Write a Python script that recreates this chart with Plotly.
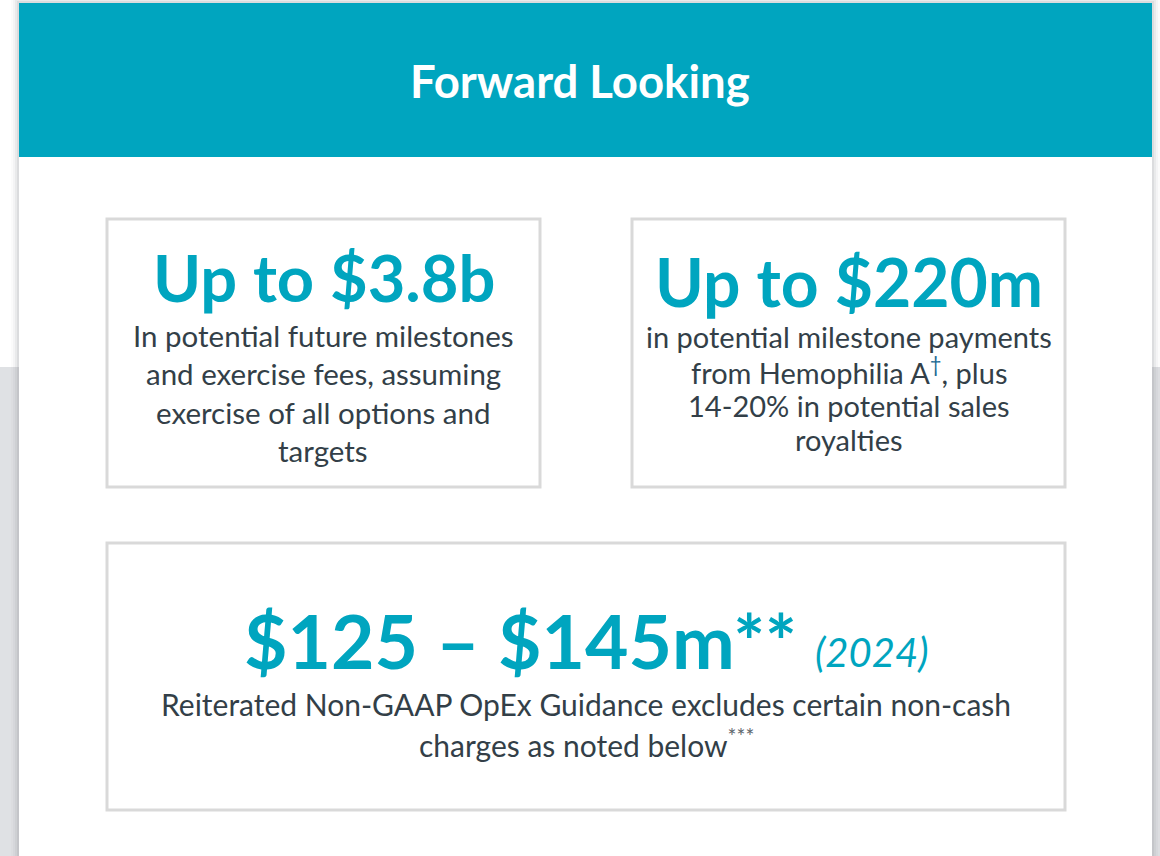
import plotly.graph_objects as go

W, H = 1160, 856
TEAL = "#00a5bf"
DARK = "#333f48"
BORDER = "#d9d9d9"
FONT = "Lato"

# ---- content ----
header_text = "Forward Looking"
box1_headline = "Up to $3.8b"
box1_lines = ["In potential future milestones", "and exercise fees, assuming",
              "exercise of all options and", "targets"]
box2_headline = "Up to $220m"
box2_lines = ["in potential milestone payments",
              "from Hemophilia A<sup><span style='color:#1d6a93'>†</span></sup>, plus",
              "14-20% in potential sales", "royalties"]
box3_headline = "$125 – $145m**"
box3_year = "(2024)"
box3_lines = ["Reiterated Non-GAAP OpEx Guidance excludes certain non-cash",
              "charges as noted below<sup><span style='color:#5f676d'>***</span></sup>"]

fig = go.Figure()
shapes = []

def rect(x0, y0, x1, y1, fill, line=None, lw=0):
    shapes.append(dict(type="rect", xref="x", yref="y", x0=x0, y0=y0, x1=x1, y1=y1,
                       fillcolor=fill, line=dict(color=line or fill, width=lw),
                       layer="below"))

# page background: white top, gray bottom
rect(0, 0, W, 367, "#ffffff")
rect(0, 367, W, H, "#dfe1e4")
# soft shadow around card
for i, a in enumerate([0.03, 0.05, 0.08, 0.12]):
    d = 8 - 2 * i
    shapes.append(dict(type="rect", xref="x", yref="y", x0=19 - d, y0=3 - d, x1=1152 + d, y1=H + 10,
                       fillcolor=f"rgba(120,125,130,{a})", line=dict(width=0), layer="below"))
# card
rect(19, 3, 1152, H + 10, "#ffffff")
# header band
rect(19, 3, 1152, 157, TEAL)
# boxes
for (x0, y0, x1, y1) in [(107, 219, 540, 487), (632, 219, 1065, 487), (107, 543, 1065, 810)]:
    shapes.append(dict(type="rect", xref="x", yref="y", x0=x0, y0=y0, x1=x1, y1=y1,
                       fillcolor="#ffffff", line=dict(color=BORDER, width=3), layer="below"))

ann = []
def text(x, y, s, size, color, bold=False, italic=False, xanchor="center"):
    t = s
    if bold:
        t = "<b>" + t + "</b>"
    if italic:
        t = "<i>" + t + "</i>"
    ann.append(dict(x=x, y=y, xref="x", yref="y", text=t, showarrow=False,
                    xanchor=xanchor, yanchor="middle",
                    font=dict(family=FONT, size=size, color=color)))

text(580, 80, header_text, 45.5, "#ffffff", bold=True)

text(324, 277, box1_headline, 65, TEAL, bold=True)
for i, s in enumerate(box1_lines):
    text(323, 335 + i * 38.5, s, 29.5, DARK)

text(849, 281, box2_headline, 66, TEAL, bold=True)
for i, s in enumerate(box2_lines):
    text(849, 336 + i * 34.5, s, 29, DARK)

text(520, 640, box3_headline, 75, TEAL, bold=True)
text(871, 652, box3_year, 40, TEAL, italic=True)
for i, s in enumerate(box3_lines):
    text(586, 704 + i * 38.5, s, 30, DARK)

fig.update_layout(
    width=W, height=H, margin=dict(l=0, r=0, t=0, b=0),
    paper_bgcolor="#ffffff", plot_bgcolor="#ffffff",
    xaxis=dict(range=[0, W], visible=False, fixedrange=True),
    yaxis=dict(range=[H, 0], visible=False, fixedrange=True),
    shapes=shapes, annotations=ann, showlegend=False,
)
fig.write_html("out.html", post_script="document.body.style.margin='0';",
               config={"displayModeBar": False})
